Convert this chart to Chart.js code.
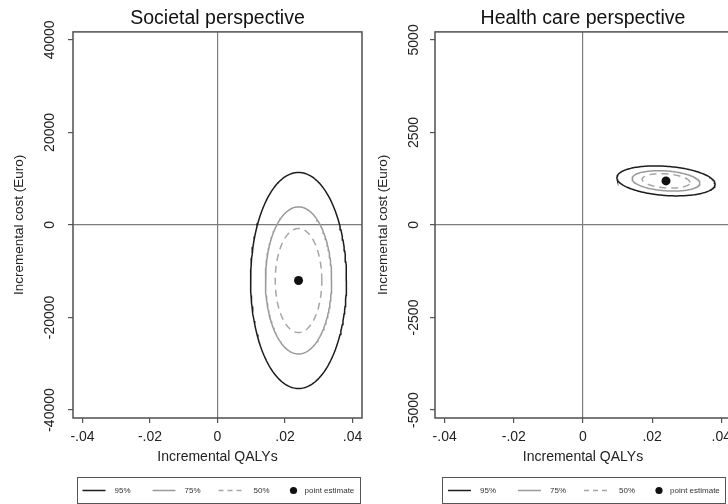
<!DOCTYPE html>
<html>
<head>
<meta charset="utf-8">
<script src="https://cdn.jsdelivr.net/npm/chart.js@4.4.1/dist/chart.umd.min.js"></script>
<style>
  html, body { margin: 0; padding: 0; background: #fff; overflow: hidden; width: 728px; height: 504px; }
  #leftPanel  { position: absolute; left: 0;     top: 0; width: 370px; height: 504px; }
  #rightPanel { position: absolute; left: 364px; top: 0; width: 372px; height: 504px; }
</style>
</head>
<body>
<div id="leftPanel"><canvas id="societal" width="370" height="504"></canvas></div>
<div id="rightPanel"><canvas id="health" width="372" height="504"></canvas></div>
<script>
const FONT = "'Liberation Sans', Arial, Helvetica, sans-serif";

// ---- chart data ----
const panelTitles = ['Societal perspective', 'Health care perspective'];
const xAxisTitle = 'Incremental QALYs';
const yAxisTitle = 'Incremental cost (Euro)';

const qalyTicks = [-0.04, -0.02, 0, 0.02, 0.04];
const qalyTickLabels = ['-.04', '-.02', '0', '.02', '.04'];

const societalCostTicks = [-40000, -20000, 0, 20000, 40000];
const societalCostTickLabels = ['-40000', '-20000', '0', '20000', '40000'];
const healthCostTicks = [-5000, -2500, 0, 2500, 5000];
const healthCostTickLabels = ['-5000', '-2500', '0', '2500', '5000'];

const levelNames = ['95%', '75%', '50%'];
const pointLabel = 'point estimate';

// point estimates: [incremental QALYs, incremental cost]
const societalPoint = [0.024, -12000];
const healthPoint = [0.024, 1190];

// confidence ellipses per level (95%, 75%, 50%): half-extent along each axis, and QALY/cost correlation
const societalHalfQaly = [0.0142, 0.0098, 0.0069];
const societalHalfCost = [23350, 15900, 11250];
const societalCorr = 0;
const healthHalfQaly = [0.0142, 0.0098, 0.0069];
const healthHalfCost = [405, 276, 195];
const healthCorr = -0.22;

// ---- styling ----
const levelStyles = [
  { color: '#1c1c1c', dash: [] },
  { color: '#9a9a9a', dash: [] },
  { color: '#a6a6a6', dash: [7, 5] }
];
const legendDash = [5, 4];

function ellipseOutline(center, hq, hc, rho) {
  const steps = 180;
  const s = Math.sqrt(1 - rho * rho);
  const pts = [];
  for (let i = 0; i <= steps; i++) {
    const t = (i / steps) * Math.PI * 2;
    pts.push({
      x: center[0] + hq * Math.cos(t),
      y: center[1] + hc * (rho * Math.cos(t) + s * Math.sin(t))
    });
  }
  return pts;
}

// plot frame on all four sides
const framePlugin = {
  id: 'frame',
  afterDatasetsDraw(chart) {
    const { ctx, chartArea: a } = chart;
    ctx.save();
    ctx.strokeStyle = '#4f4f4f';
    ctx.lineWidth = 1.5;
    ctx.strokeRect(a.left, a.top, a.right - a.left, a.bottom - a.top);
    ctx.restore();
  }
};

// boxed key under the plot
const keyPlugin = {
  id: 'ceKey',
  afterDraw(chart) {
    const { ctx, chartArea: a } = chart;
    const cx = (a.left + a.right) / 2;
    const top = Math.round(a.bottom + 59) + 0.5;
    const h = 26;
    const my = top + h / 2;
    ctx.save();
    ctx.strokeStyle = '#555';
    ctx.lineWidth = 1;
    ctx.strokeRect(Math.round(cx - 141) + 0.5, top, 283, h);

    const lineStarts = [-135, -65, 1];
    const textStarts = [-103, -33, 36];
    ctx.font = `8px ${FONT}`;
    ctx.textBaseline = 'middle';
    ctx.textAlign = 'left';
    for (let i = 0; i < levelNames.length; i++) {
      ctx.beginPath();
      ctx.strokeStyle = levelStyles[i].color;
      ctx.lineWidth = 1.5;
      ctx.setLineDash(levelStyles[i].dash.length ? legendDash : []);
      ctx.moveTo(cx + lineStarts[i], my);
      ctx.lineTo(cx + lineStarts[i] + 23, my);
      ctx.stroke();
      ctx.setLineDash([]);
      ctx.fillStyle = '#333';
      ctx.fillText(levelNames[i], cx + textStarts[i], my);
    }
    ctx.beginPath();
    ctx.fillStyle = '#111';
    ctx.arc(cx + 76, my, 3.6, 0, Math.PI * 2);
    ctx.fill();
    ctx.fillStyle = '#333';
    ctx.fillText(pointLabel, cx + 87, my);
    ctx.restore();
  }
};

function makePanel(canvasId, cfg) {
  const m = document.createElement('canvas').getContext('2d');
  m.font = `14px ${FONT}`;
  const widest = Math.max(...cfg.yTickLabels.map(l => m.measureText(l).width));
  const yTickPadding = cfg.yAxisWidth - 5 - 50 - widest / 2;

  const datasets = levelNames.map((name, i) => ({
    label: name,
    data: ellipseOutline(cfg.point, cfg.halfQaly[i], cfg.halfCost[i], cfg.corr),
    showLine: true,
    pointRadius: 0,
    borderColor: levelStyles[i].color,
    borderDash: levelStyles[i].dash,
    borderWidth: 1.5,
    fill: false,
    tension: 0
  }));
  datasets.push({
    label: pointLabel,
    data: [{ x: cfg.point[0], y: cfg.point[1] }],
    pointRadius: 4.5,
    pointBackgroundColor: '#111',
    pointBorderWidth: 0,
    showLine: false
  });

  const zeroGrid = {
    drawOnChartArea: true,
    drawTicks: true,
    tickLength: 5,
    tickColor: '#555',
    tickWidth: 1.2,
    lineWidth: 1.2,
    color: c => (c.tick && c.tick.value === 0 ? '#7c7c7c' : 'rgba(0,0,0,0)')
  };

  return new Chart(document.getElementById(canvasId), {
    type: 'scatter',
    data: { datasets },
    options: {
      responsive: false,
      animation: false,
      devicePixelRatio: 1,
      layout: { padding: { left: 0, top: 0, right: cfg.padRight, bottom: 38 } },
      plugins: {
        legend: { display: false },
        tooltip: { enabled: false },
        title: {
          display: true,
          text: cfg.title,
          fullSize: false,
          color: '#111',
          font: { family: FONT, size: 19.5, weight: 'normal' },
          padding: { top: 6.5, bottom: 2 }
        }
      },
      scales: {
        x: {
          type: 'linear',
          min: -0.0428,
          max: 0.0428,
          afterBuildTicks: s => { s.ticks = qalyTicks.map(v => ({ value: v })); },
          afterFit: s => { s.height = 48; s.paddingLeft = 0; s.paddingRight = 0; },
          ticks: {
            color: '#222',
            font: { family: FONT, size: 14 },
            padding: 6,
            maxRotation: 0,
            callback: v => qalyTickLabels[qalyTicks.indexOf(v)]
          },
          grid: zeroGrid,
          border: { display: false },
          title: {
            display: true,
            text: xAxisTitle,
            color: '#222',
            font: { family: FONT, size: 14 },
            padding: { top: 0, bottom: 0.6 }
          }
        },
        y: {
          type: 'linear',
          min: -cfg.yLimit,
          max: cfg.yLimit,
          afterBuildTicks: s => { s.ticks = cfg.yTicks.map(v => ({ value: v })); },
          afterFit: s => { s.width = cfg.yAxisWidth; s.paddingTop = 0; s.paddingBottom = 0; },
          ticks: {
            color: '#222',
            font: { family: FONT, size: 14 },
            minRotation: 90,
            maxRotation: 90,
            crossAlign: 'center',
            padding: yTickPadding,
            callback: v => cfg.yTickLabels[cfg.yTicks.indexOf(v)]
          },
          grid: zeroGrid,
          border: { display: false },
          title: {
            display: true,
            text: yAxisTitle,
            color: '#222',
            font: { family: FONT, size: 13.5 },
            padding: { top: 11.4, bottom: 0 }
          }
        }
      }
    },
    plugins: [framePlugin, keyPlugin]
  });
}

makePanel('societal', {
  title: panelTitles[0],
  point: societalPoint,
  halfQaly: societalHalfQaly,
  halfCost: societalHalfCost,
  corr: societalCorr,
  yTicks: societalCostTicks,
  yTickLabels: societalCostTickLabels,
  yLimit: 41730,
  yAxisWidth: 73,
  padRight: 8
});

makePanel('health', {
  title: panelTitles[1],
  point: healthPoint,
  halfQaly: healthHalfQaly,
  halfCost: healthHalfCost,
  corr: healthCorr,
  yTicks: healthCostTicks,
  yTickLabels: healthCostTickLabels,
  yLimit: 5216,
  yAxisWidth: 71,
  padRight: 5
});
</script>
</body>
</html>
